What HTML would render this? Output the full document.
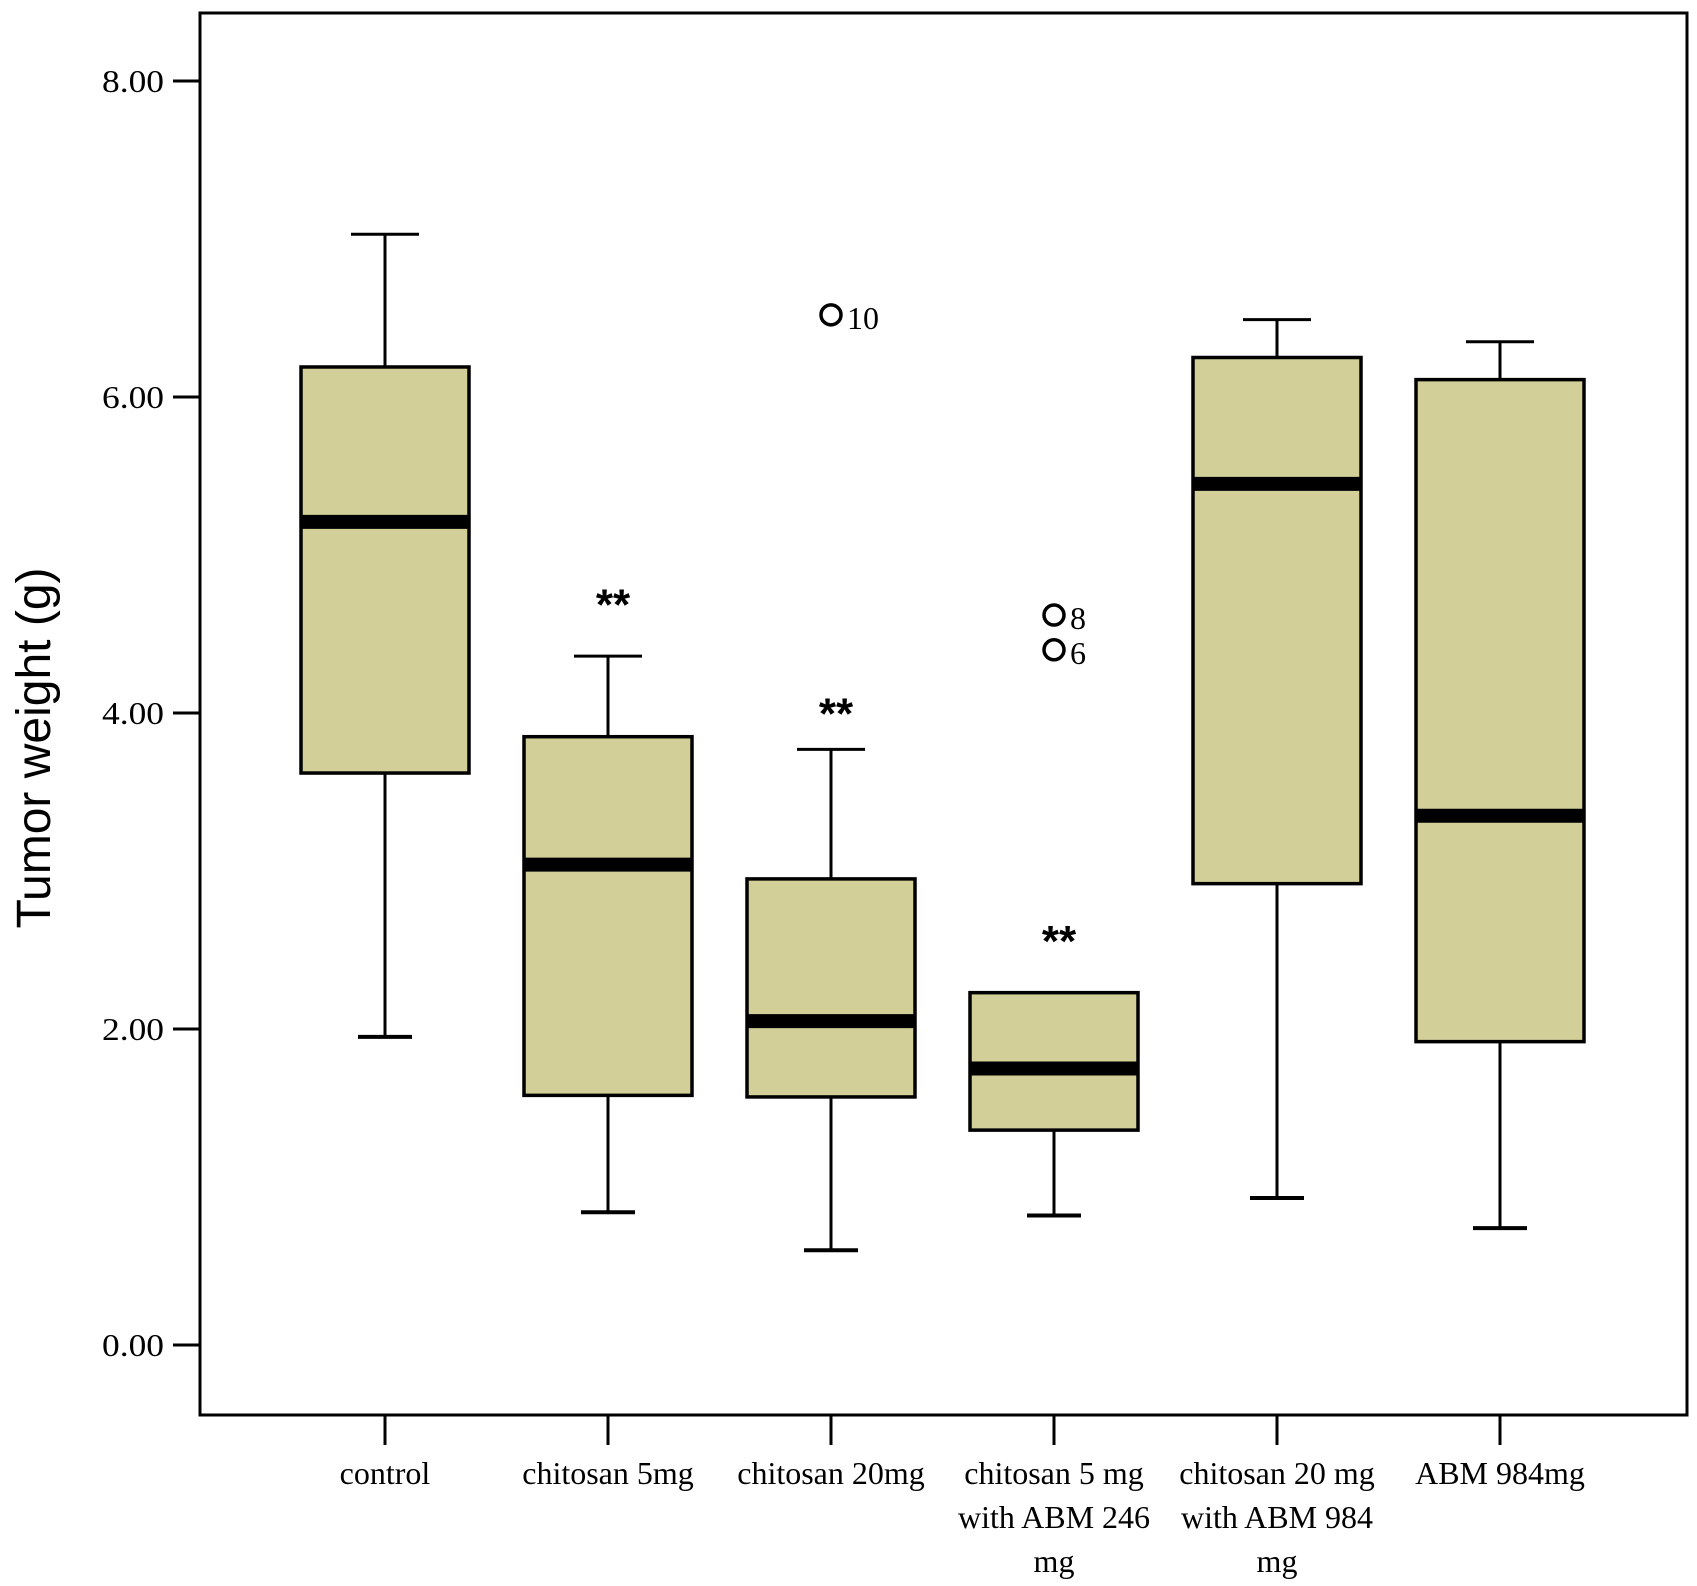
<!DOCTYPE html>
<html><head><meta charset="utf-8"><style>
html,body{margin:0;padding:0;background:#fff;}
svg{display:block;}
.tick{font-family:"Liberation Serif",serif;font-size:32px;fill:#000;}
</style></head><body>
<svg id="chart" width="1697" height="1586" viewBox="0 0 1697 1586" xmlns="http://www.w3.org/2000/svg">
<rect x="200" y="13" width="1487" height="1402" fill="#fff" stroke="#000" stroke-width="3"/>
<text transform="translate(50,748) rotate(-90)" text-anchor="middle" font-family="Liberation Sans, sans-serif" font-size="48" fill="#000">Tumor weight (g)</text>
<g id="g"></g>
</svg>
<script>
const categories=[["control"],["chitosan 5mg"],["chitosan 20mg"],["chitosan 5 mg","with ABM 246","mg"],["chitosan 20 mg","with ABM 984","mg"],["ABM 984mg"]];
const whiskerHigh=[7.03,4.36,3.77,2.23,6.49,6.35];
const q3=[6.19,3.85,2.95,2.23,6.25,6.11];
const medians=[5.21,3.04,2.05,1.75,5.45,3.35];
const q1=[3.62,1.58,1.57,1.36,2.92,1.92];
const whiskerLow=[1.95,0.84,0.60,0.82,0.93,0.74];
const outlierGroup=[2,3,3];
const outlierValues=[6.52,4.62,4.40];
const outlierLabels=["10","8","6"];
const starGroups=[1,2,3];
const starValues=[4.77,4.08,2.64];
const yTicks=[0,2,4,6,8];
const yTickLabels=["0.00","2.00","4.00","6.00","8.00"];

const NS="http://www.w3.org/2000/svg";
const g=document.getElementById('g');
const y=v=>1345-158*v;
const x=i=>385+i*223;
function mk(t,a,p){const e=document.createElementNS(NS,t);for(const k in a)e.setAttribute(k,a[k]);(p||g).appendChild(e);return e;}
yTicks.forEach((v,i)=>{
  const t=mk('line',{x1:173,x2:200,y1:y(v),y2:y(v),stroke:'#000','stroke-width':3});
  
  
  const l=mk('text',{x:164,y:y(v)+11,'text-anchor':'end',class:'tick',textLength:62,lengthAdjust:'spacingAndGlyphs'});
  l.textContent=yTickLabels[i];
  
  
});
const hw=84;
categories.forEach((c,i)=>{
  const cx=x(i);
  const t=mk('line',{x1:cx,x2:cx,y1:1415,y2:1445,stroke:'#000','stroke-width':3});
  
  
  c.forEach((s,j)=>{
    const l=mk('text',{x:cx,y:1484+j*44,'text-anchor':'middle',class:'tick'});
    l.textContent=s;
    
    
  });
  const bg=mk('g',{});
  
  
  mk('line',{x1:cx,x2:cx,y1:y(whiskerHigh[i]),y2:y(q3[i]),stroke:'#000','stroke-width':3},bg);
  mk('line',{x1:cx,x2:cx,y1:y(q1[i]),y2:y(whiskerLow[i]),stroke:'#000','stroke-width':3},bg);
  if(whiskerHigh[i]>q3[i]) mk('line',{x1:cx-34,x2:cx+34,y1:y(whiskerHigh[i]),y2:y(whiskerHigh[i]),stroke:'#000','stroke-width':3},bg);
  mk('line',{x1:cx-27,x2:cx+27,y1:y(whiskerLow[i]),y2:y(whiskerLow[i]),stroke:'#000','stroke-width':4},bg);
  mk('rect',{x:cx-hw,y:y(q3[i]),width:2*hw,height:y(q1[i])-y(q3[i]),fill:'#d3cf98',stroke:'#000','stroke-width':3.5},bg);
  mk('line',{x1:cx-hw,x2:cx+hw,y1:y(medians[i]),y2:y(medians[i]),stroke:'#000','stroke-width':14},bg);
});
outlierValues.forEach((v,i)=>{
  const cx=x(outlierGroup[i]);
  const c=mk('circle',{cx:cx,cy:y(v),r:10,fill:'none',stroke:'#000','stroke-width':3.5});
  
  
  const l=mk('text',{x:cx+16,y:y(v)+14,class:'tick','font-size':40});
  l.textContent=outlierLabels[i];
  
  
});
starGroups.forEach((gi,i)=>{
  const l=mk('text',{x:x(gi)+5,y:y(starValues[i])+28,'text-anchor':'middle','font-family':'Liberation Sans, sans-serif','font-size':44,'font-weight':'bold'});
  l.textContent='**';
  
  
});
</script>
</body></html>
